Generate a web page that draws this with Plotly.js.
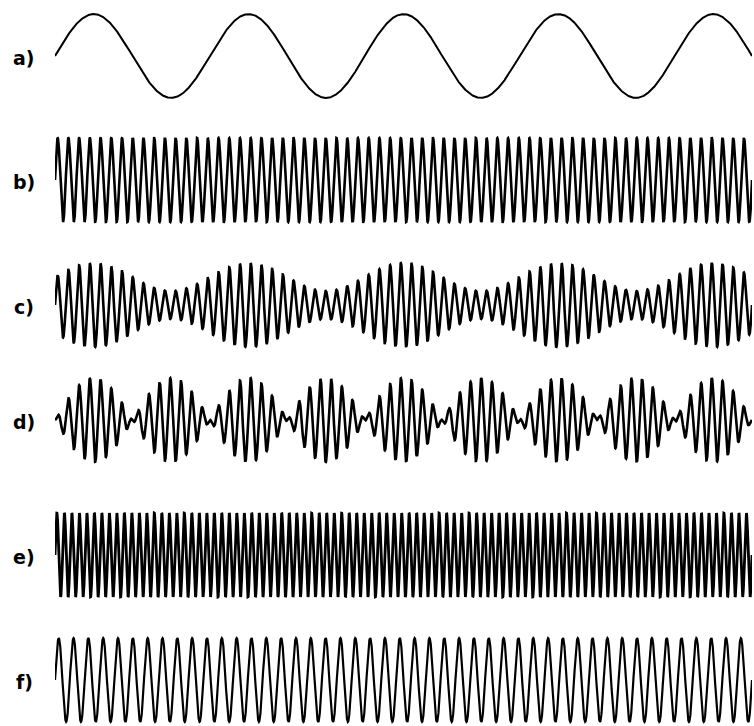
<!DOCTYPE html>
<html>
<head>
<meta charset="utf-8">
<script src="https://cdn.plot.ly/plotly-3.0.1.min.js"></script>
<style>html,body{margin:0;padding:0;background:#fff;}#chart{width:754px;height:726px;}</style>
</head>
<body>
<div id="chart"></div>
<script>
// Panel labels, top to bottom
const panelLabels = ['a)', 'b)', 'c)', 'd)', 'e)', 'f)'];
// What each panel shows
const panelKinds = ['modulating', 'carrier', 'am', 'dsb', 'tone', 'tone'];
// Cycles across the full width
const modulatingCycles = 4.5;
const waveCycles = [4.5, 65, 65, 65, 93, 47];
// AM modulation depth read from envelope (max 42 px, min 14 px)
const amDepth = 0.5;
// Line widths
const lineWidths = [2, 2.6, 2.6, 2.6, 2.8, 2.2];
// Panel centre rows (px from top)
const panelCentres = [56, 180, 305, 420, 555, 680];

const H = 726, W = 754;
const N = 5000;
const t = [];
for (let i = 0; i <= N; i++) t.push(i / N);

const traces = [];
const layout = {
  width: W, height: H,
  margin: {l: 0, r: 0, t: 0, b: 0},
  paper_bgcolor: '#fff', plot_bgcolor: '#fff',
  showlegend: false,
  annotations: []
};

panelLabels.forEach((lab, k) => {
  const fc = waveCycles[k];
  const y = t.map(v => {
    const m = Math.sin(2 * Math.PI * modulatingCycles * v);
    const c = Math.sin(2 * Math.PI * fc * v);
    switch (panelKinds[k]) {
      case 'modulating': return m;
      case 'carrier': return c;
      case 'am': return (1 + amDepth * m) / (1 + amDepth) * c;
      case 'dsb': return m * c;
      default: return c;
    }
  });
  const ax = k === 0 ? '' : String(k + 1);
  traces.push({
    x: t, y: y, type: 'scatter', mode: 'lines',
    xaxis: 'x' + ax, yaxis: 'y' + ax,
    line: {color: '#000', width: lineWidths[k]},
    hoverinfo: 'skip'
  });
  const c = panelCentres[k];
  const half = 44;
  layout['xaxis' + ax] = {
    domain: [55 / W, 752 / W], range: [0, 1], visible: false,
    anchor: 'y' + ax
  };
  layout['yaxis' + ax] = {
    domain: [(H - c - half) / H, (H - c + half) / H],
    range: [-1.05, 1.05], visible: false, anchor: 'x' + ax
  };
  layout.annotations.push({
    text: '<b>' + lab + '</b>', xref: 'paper', yref: 'paper',
    x: 24 / W, y: (H - c - 2) / H, xanchor: 'center', yanchor: 'middle',
    showarrow: false,
    font: {family: 'DejaVu Sans', size: 19, color: '#000'}
  });
});

Plotly.newPlot('chart', traces, layout, {staticPlot: true, displayModeBar: false});
</script>
</body>
</html>
